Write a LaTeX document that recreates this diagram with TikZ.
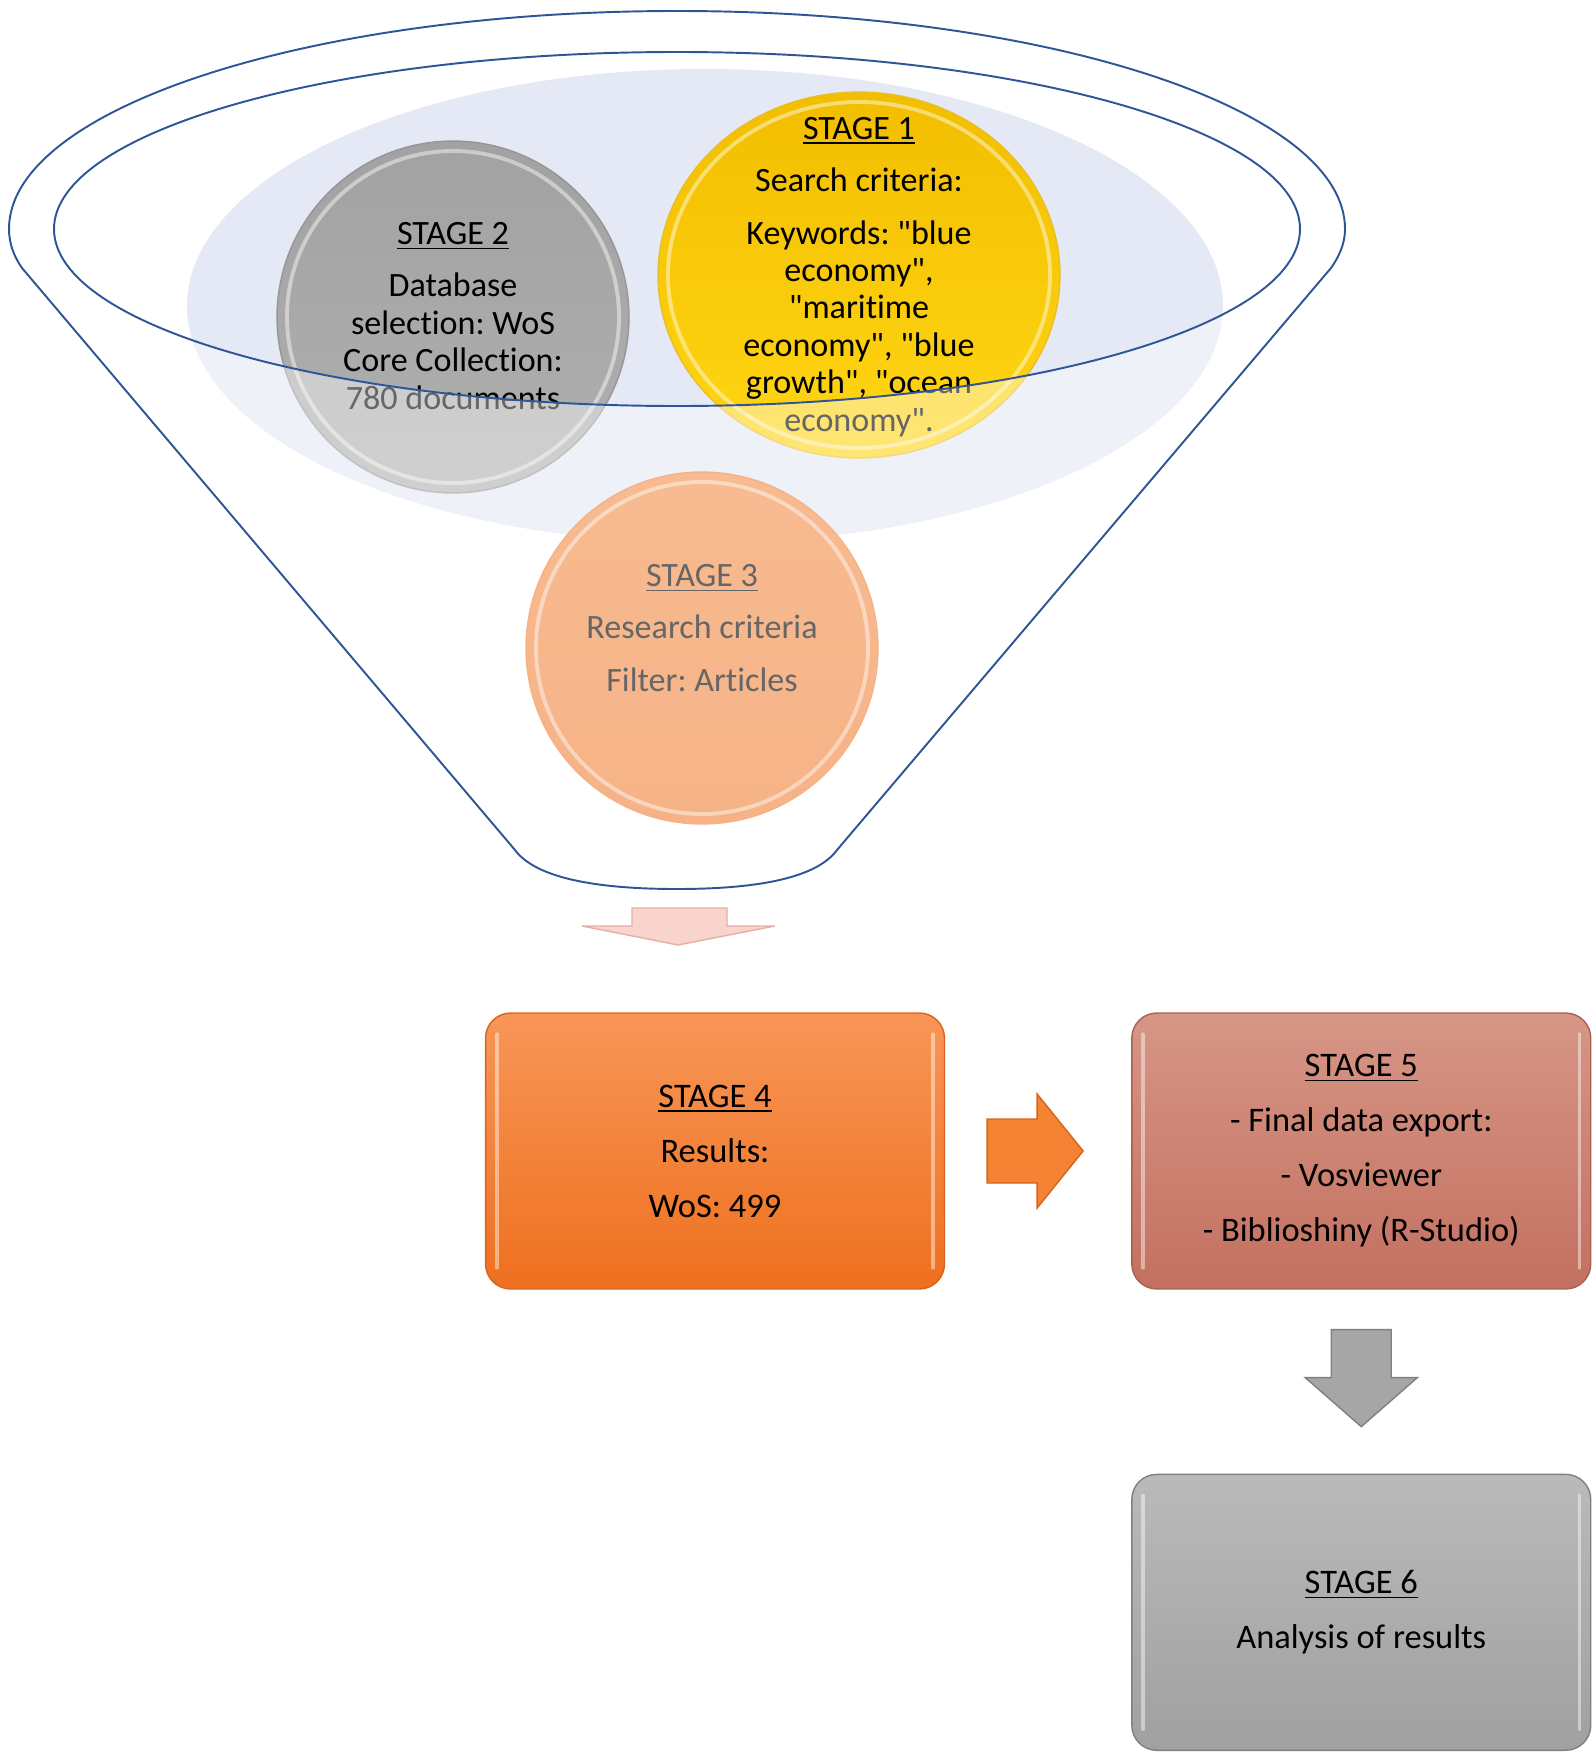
\documentclass[tikz,border=0pt]{standalone}
\usepackage{fontspec}
\setmainfont{Carlito}[Ligatures={TeXOff,CommonOff}]
\usetikzlibrary{positioning, shapes.geometric, calc}

\definecolor{funnelblue}{RGB}{47,85,151}
\definecolor{haze}{RGB}{229,233,245}
\definecolor{goldtop}{RGB}{242,190,0}
\definecolor{goldbot}{RGB}{255,214,20}
\definecolor{goldrim}{RGB}{235,190,40}
\definecolor{greytop}{RGB}{162,162,162}
\definecolor{greybot}{RGB}{176,176,176}
\definecolor{greyrim}{RGB}{150,150,150}
\definecolor{peachtop}{RGB}{244,142,72}
\definecolor{peachbot}{RGB}{240,128,54}
\definecolor{orangetop}{RGB}{248,150,88}
\definecolor{orangebot}{RGB}{238,112,30}
\definecolor{orangerim}{RGB}{214,100,30}
\definecolor{rosetop}{RGB}{214,150,134}
\definecolor{rosebot}{RGB}{196,112,96}
\definecolor{roserim}{RGB}{170,95,80}
\definecolor{slatetop}{RGB}{186,186,186}
\definecolor{slatebot}{RGB}{160,160,160}
\definecolor{slaterim}{RGB}{128,128,128}
\definecolor{blushfill}{RGB}{248,212,204}
\definecolor{blushrim}{RGB}{228,176,166}
\definecolor{arroworange}{RGB}{244,132,52}
\definecolor{arrowgrey}{RGB}{166,166,166}

\newcommand{\stagetitle}[1]{\setbox0\hbox{#1}\rlap{\rule[-2.6pt]{\wd0}{0.9pt}}\box0}
\newcommand{\funnelpath}{(9,229) arc[start angle=180, end angle=360, x radius=668, y radius=218]
    .. controls (1345,245) and (1338,258) .. (1331,268) -- (837,850)
    .. controls (815,880) and (750,889) .. (677,889)
    .. controls (604,889) and (537,880) .. (515,850) -- (22,268)
    .. controls (15,258) and (9,245) .. (9,229) -- cycle}

\begin{document}
\frenchspacing
\begin{tikzpicture}[x=0.02cm, y=-0.02cm,
    funnel/.style={draw=funnelblue, line width=1.1pt},
    disc/.style={ellipse, inner sep=0pt, line width=0.8pt},
    glint/.style={draw=white, line width=2.2pt, opacity=0.45},
    stagetext/.style={align=center, inner sep=0pt, font=\fontsize{19.4}{21.3}\selectfont},
    stagebox/.style={rectangle, rounded corners=0.5cm, minimum width=9.18cm, minimum height=5.52cm, inner sep=0pt, line width=0.8pt, align=center, font=\fontsize{19.6}{31.3}\selectfont},
    blockarrow/.style={line width=0.8pt, line join=miter}]

    \useasboundingbox (0,0) rectangle (1594,1754);

    % Funnel backdrop
    \fill[haze] (705,306) ellipse[x radius=518, y radius=237];

    % Stages inside the funnel
    \node[disc, draw=greyrim, top color=greytop, bottom color=greybot, minimum width=7.04cm, minimum height=7.04cm] (c2) at (453,317) {};
    \node[disc, draw=goldrim, top color=goldtop, bottom color=goldbot, minimum width=8.04cm, minimum height=7.32cm] (c1) at (859,275) {};
    \node[disc, draw=peachbot, top color=peachtop, bottom color=peachbot, minimum width=7.04cm, minimum height=7.04cm] (c3) at (702,648) {};
    \foreach \c/\rx/\ry in {c1/191/173, c2/166/166, c3/166/166}
        \draw[glint] (\c.center) ellipse[x radius=\rx, y radius=\ry];

    \node[stagetext] (t1) at (859,277) {\stagetitle{STAGE 1}\\[8.5pt] Search criteria:\\[8.5pt] Keywords: "blue\\ economy",\\ "maritime\\ economy", "blue\\ growth", "ocean\\ economy".};
    \node[stagetext] (t2) at (453,316) {\stagetitle{STAGE 2}\\[8.5pt] Database\\ selection: WoS\\ Core Collection:\\ 780 documents};
    \node[stagetext] (t3) at (702,628) {\stagetitle{STAGE 3}\\[8.5pt] Research criteria\\[8.5pt] Filter: Articles};

    % Funnel front and rims
    \fill[white, opacity=0.4, even odd rule] \funnelpath (677,229) ellipse[x radius=623, y radius=177];
    \draw[funnel] \funnelpath;
    \draw[funnel] (677,229) ellipse[x radius=623, y radius=177];
    \coordinate (spout) at (677,889);
    \draw[blockarrow, fill=blushfill, draw=blushrim] ([shift={(-45,19)}]spout) -- ++(95,0) -- ++(0,18) -- ++(48,0) -- ++(-97,19) -- ++(-96,-19) -- ++(50,0) -- cycle;

    % Results and export
    \node[stagebox, draw=orangerim, top color=orangetop, bottom color=orangebot] (s4) at (715,1151) {\stagetitle{STAGE 4}\\ Results:\\ WoS: 499};
    \node[stagebox, draw=roserim, top color=rosetop, bottom color=rosebot, right=3.72cm of s4] (s5) {\stagetitle{STAGE 5}\\ - Final data export:\\ - Vosviewer\\ - Biblioshiny (R-Studio)};
    \node[stagebox, draw=slaterim, top color=slatetop, bottom color=slatebot, below=3.68cm of s5] (s6) {\stagetitle{STAGE 6}\\ Analysis of results};
    \foreach \b in {s4, s5, s6} {
        \draw[glint, line cap=round] ([shift={(12,22)}]\b.north west) -- ([shift={(12,-22)}]\b.south west);
        \draw[glint, line cap=round] ([shift={(-12,22)}]\b.north east) -- ([shift={(-12,-22)}]\b.south east);
    }

    \coordinate (a45) at ($(s4.east)!0.5!(s5.west)$);
    \coordinate (a56) at ($(s5.south)!0.5!(s6.north)$);
    \draw[blockarrow, fill=arroworange, draw=orangerim] ([shift={(-51,-32)}]a45) -- ++(50,0) -- ++(0,-25) -- ++(46,57) -- ++(-46,57) -- ++(0,-25) -- ++(-50,0) -- cycle;
    \draw[blockarrow, fill=arrowgrey, draw=slaterim] ([shift={(-30,-52)}]a56) -- ++(60,0) -- ++(0,48) -- ++(26,0) -- ++(-56,49) -- ++(-56,-49) -- ++(26,0) -- cycle;
\end{tikzpicture}
\end{document}
